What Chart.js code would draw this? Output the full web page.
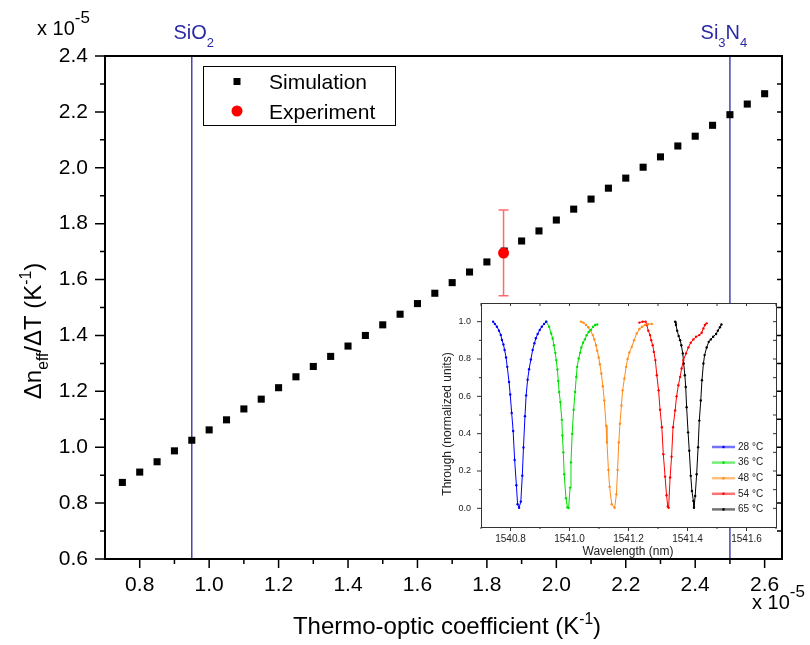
<!DOCTYPE html>
<html>
<head>
<meta charset="utf-8">
<script src="https://cdn.jsdelivr.net/npm/chart.js@4.4.1/dist/chart.umd.min.js"></script>
<style>
body { margin: 0; background: #fff; }
#wrap { position: relative; width: 810px; height: 645px; }
#main { position: absolute; left: 0; top: 0; }
#inset { position: absolute; left: 430px; top: 290px; }
</style>
</head>
<body>
<div id="wrap">
<canvas id="main" width="810" height="645"></canvas>
<canvas id="inset" width="360" height="275"></canvas>
</div>
<script>
// main plot: thermo-optic coefficient vs dn_eff/dT (both x 1e-5)
const simX = [0.75, 0.80, 0.85, 0.90, 0.95, 1.00, 1.05, 1.10, 1.15, 1.20, 1.25, 1.30, 1.35, 1.40, 1.45, 1.50, 1.55, 1.60, 1.65,
    1.70, 1.75, 1.80, 1.85, 1.90, 1.95, 2.00, 2.05, 2.10, 2.15, 2.20, 2.25, 2.30, 2.35, 2.40, 2.45, 2.50, 2.55, 2.60];
const simY = [0.874, 0.911, 0.948, 0.987, 1.025, 1.062, 1.098, 1.137, 1.172, 1.213, 1.252, 1.289, 1.325, 1.362, 1.400, 1.438,
    1.476, 1.514, 1.551, 1.589, 1.627, 1.663, 1.702, 1.738, 1.774, 1.813, 1.852, 1.888, 1.927, 1.963, 2.002, 2.039, 2.078,
    2.113, 2.152, 2.190, 2.228, 2.265];

const expX = [1.848];
const expY = [1.695];
const expLow = [1.542];
const expHigh = [1.849];

const materialX = [0.95, 2.50];
const materialLabels = [[['SiO', 1, 0], ['2', 0.65, 8]], [['Si', 1, 0], ['3', 0.65, 8], ['N', 1, 0], ['4', 0.65, 8]]];

const xTicks = [0.8, 1.0, 1.2, 1.4, 1.6, 1.8, 2.0, 2.2, 2.4, 2.6];
const yTicks = [0.6, 0.8, 1.0, 1.2, 1.4, 1.6, 1.8, 2.0, 2.2, 2.4];

// inset: resonance dips at several temperatures
const insetLabels = ['28 °C', '36 °C', '48 °C', '54 °C', '65 °C'];
const insetColors = ['#0000ff', '#00e000', '#ff8c1a', '#ff0000', '#000000'];

const wl28 = [1540.741, 1540.747, 1540.754, 1540.761, 1540.767, 1540.771, 1540.776, 1540.780, 1540.785, 1540.789,
    1540.795, 1540.799, 1540.804, 1540.809, 1540.814, 1540.820, 1540.824, 1540.829, 1540.835, 1540.840, 1540.844, 1540.849,
    1540.853, 1540.858, 1540.863, 1540.869, 1540.875, 1540.881, 1540.886, 1540.892, 1540.899, 1540.906, 1540.914, 1540.921];
const tr28 = [1.00, 0.988, 0.973, 0.952, 0.929, 0.902, 0.878, 0.848, 0.808, 0.758, 0.677, 0.610, 0.511, 0.414, 0.259, 0.124,
    0.022, 0.003, 0.036, 0.175, 0.326, 0.493, 0.605, 0.689, 0.745, 0.797, 0.848, 0.884, 0.911, 0.934, 0.955, 0.973, 0.988, 1.00];

const wl36 = [1540.921, 1540.931, 1540.938, 1540.943, 1540.947, 1540.952, 1540.955, 1540.959, 1540.962, 1540.965,
    1540.969, 1540.974, 1540.976, 1540.979, 1540.982, 1540.988, 1540.993, 1540.997, 1541.002, 1541.005, 1541.009, 1541.014,
    1541.019, 1541.023, 1541.026, 1541.031, 1541.036, 1541.040, 1541.046, 1541.052, 1541.058, 1541.065, 1541.072, 1541.080,
    1541.087, 1541.094];
const tr36 = [1.00, 0.973, 0.937, 0.910, 0.874, 0.833, 0.794, 0.744, 0.682, 0.623, 0.569, 0.474, 0.390, 0.300, 0.183, 0.054,
    0.005, 0.002, 0.111, 0.246, 0.399, 0.528, 0.623, 0.704, 0.758, 0.803, 0.833, 0.862, 0.887, 0.905, 0.927, 0.945, 0.955,
    0.973, 0.982, 0.985];

const wl48 = [1541.039, 1541.047, 1541.056, 1541.064, 1541.071, 1541.079, 1541.084, 1541.090, 1541.094, 1541.099,
    1541.103, 1541.108, 1541.113, 1541.118, 1541.124, 1541.127, 1541.132, 1541.136, 1541.143, 1541.153, 1541.159, 1541.163,
    1541.167, 1541.171, 1541.176, 1541.180, 1541.186, 1541.192, 1541.197, 1541.203, 1541.211, 1541.219, 1541.228, 1541.237,
    1541.246, 1541.256, 1541.266, 1541.279];
const tr48 = [1.00, 0.995, 0.982, 0.970, 0.952, 0.928, 0.905, 0.874, 0.844, 0.808, 0.772, 0.722, 0.654, 0.578, 0.443, 0.353,
    0.205, 0.115, 0.022, 0.003, 0.075, 0.205, 0.353, 0.453, 0.551, 0.632, 0.695, 0.758, 0.800, 0.835, 0.865, 0.901, 0.937,
    0.961, 0.973, 0.982, 0.986, 0.988];

const wl54 = [1541.237, 1541.248, 1541.258, 1541.262, 1541.267, 1541.273, 1541.277, 1541.282, 1541.286, 1541.291,
    1541.296, 1541.302, 1541.307, 1541.313, 1541.318, 1541.324, 1541.329, 1541.333, 1541.336, 1541.341, 1541.346, 1541.351,
    1541.358, 1541.363, 1541.369, 1541.375, 1541.380, 1541.386, 1541.395, 1541.403, 1541.411, 1541.420, 1541.429, 1541.440,
    1541.448, 1541.454, 1541.459, 1541.465];
const tr54 = [0.995, 1.00, 1.00, 0.982, 0.952, 0.928, 0.901, 0.874, 0.838, 0.794, 0.713, 0.632, 0.528, 0.434, 0.290, 0.170,
    0.070, 0.010, 0.003, 0.165, 0.276, 0.434, 0.524, 0.600, 0.659, 0.704, 0.749, 0.794, 0.830, 0.862, 0.887, 0.905, 0.919,
    0.928, 0.941, 0.964, 0.982, 0.991];

const wl65 = [1541.358, 1541.361, 1541.365, 1541.370, 1541.375, 1541.379, 1541.384, 1541.387, 1541.391, 1541.394,
    1541.397, 1541.402, 1541.406, 1541.411, 1541.415, 1541.420, 1541.422, 1541.426, 1541.431, 1541.436, 1541.440, 1541.445,
    1541.449, 1541.454, 1541.458, 1541.465, 1541.472, 1541.479, 1541.487, 1541.497, 1541.503, 1541.510, 1541.515];
const tr65 = [1.00, 0.982, 0.952, 0.923, 0.901, 0.874, 0.830, 0.776, 0.713, 0.650, 0.542, 0.407, 0.309, 0.174, 0.093, 0.039,
    0.003, 0.066, 0.183, 0.327, 0.470, 0.578, 0.686, 0.776, 0.821, 0.862, 0.892, 0.905, 0.919, 0.934, 0.952, 0.970, 0.985];

const insetX = [wl28, wl36, wl48, wl54, wl65];
const insetY = [tr28, tr36, tr48, tr54, tr65];
const insetXTicks = [1540.8, 1541.0, 1541.2, 1541.4, 1541.6];
const insetYTicks = [0.0, 0.2, 0.4, 0.6, 0.8, 1.0];

const FONT = '"Liberation Sans", Arial, sans-serif';
const BLUE = '#2a2aa6';

function points(xs, ys) {
    return xs.map((x, i) => ({ x: x, y: ys[i] }));
}

function mid(a) {
    return a.slice(1).map((v, i) => (v + a[i]) / 2);
}

// text with sub/superscripts: parts = [[text, sizeScale, dy], ...]
function drawRich(ctx, parts, x, y, size, align) {
    let w = 0;
    parts.forEach(p => {
        ctx.font = (size * p[1]) + 'px ' + FONT;
        w += ctx.measureText(p[0]).width;
    });
    let cx = align === 'center' ? x - w / 2 : (align === 'right' ? x - w : x);
    ctx.textAlign = 'left';
    ctx.textBaseline = 'alphabetic';
    parts.forEach(p => {
        ctx.font = (size * p[1]) + 'px ' + FONT;
        ctx.fillText(p[0], cx, y + p[2]);
        cx += ctx.measureText(p[0]).width;
    });
}

function drawTicks(ctx, scale, vals, pos, len) {
    ctx.beginPath();
    vals.forEach(v => {
        const p = scale.getPixelForValue(v);
        if (scale.isHorizontal()) {
            ctx.moveTo(p, pos);
            ctx.lineTo(p, pos + len);
        } else {
            ctx.moveTo(pos, p);
            ctx.lineTo(pos + len, p);
        }
    });
    ctx.stroke();
}

const mainDecor = {
    id: 'mainDecor',
    beforeDatasetsDraw(chart) {
        const ctx = chart.ctx, xs = chart.scales.x, ys = chart.scales.y;
        ctx.save();
        ctx.strokeStyle = 'rgba(255, 70, 70, 0.8)';
        ctx.lineWidth = 1.5;
        expX.forEach((x, i) => {
            const px = xs.getPixelForValue(x);
            const y0 = ys.getPixelForValue(expLow[i]);
            const y1 = ys.getPixelForValue(expHigh[i]);
            ctx.beginPath();
            ctx.moveTo(px, y0); ctx.lineTo(px, y1);
            ctx.moveTo(px - 5, y0); ctx.lineTo(px + 5, y0);
            ctx.moveTo(px - 5, y1); ctx.lineTo(px + 5, y1);
            ctx.stroke();
        });
        ctx.restore();
    },
    afterDraw(chart) {
        const ctx = chart.ctx, a = chart.chartArea, xs = chart.scales.x, ys = chart.scales.y;
        ctx.save();
        ctx.strokeStyle = '#000';
        ctx.lineWidth = 2;
        ctx.strokeRect(a.left, a.top, a.right - a.left, a.bottom - a.top);
        ctx.lineWidth = 1.5;
        drawTicks(ctx, ys, yTicks, a.left, -10);
        drawTicks(ctx, ys, mid(yTicks), a.left, -5);
        drawTicks(ctx, xs, xTicks, a.bottom, 9);
        drawTicks(ctx, xs, mid(xTicks), a.bottom, 5);
        drawTicks(ctx, ys, yTicks.concat(mid(yTicks)), a.right, -5);

        ctx.fillStyle = '#000';
        drawRich(ctx, [['x 10', 1, 0], ['-5', 0.85, -12]], 37, 35, 20, 'left');
        drawRich(ctx, [['x 10', 1, 0], ['-5', 0.85, -12]], 752, 609, 20, 'left');
        drawRich(ctx, [['Thermo-optic coefficient (K', 1, 0], ['-1', 0.65, -10], [')', 1, 0]], 447, 634, 24, 'center');
        ctx.save();
        ctx.translate(41, 331);
        ctx.rotate(-Math.PI / 2);
        drawRich(ctx, [['\u0394n', 1, 0], ['eff', 0.65, 7], ['/\u0394T (K', 1, 0], ['-1', 0.65, -10], [')', 1, 0]], 0, 0, 24, 'center');
        ctx.restore();

        ctx.fillStyle = BLUE;
        materialX.forEach((x, i) => {
            drawRich(ctx, materialLabels[i], xs.getPixelForValue(x) + (i === 0 ? 2 : -6), 39, 20, 'center');
        });

        // legend box
        ctx.lineWidth = 1;
        ctx.strokeStyle = '#000';
        ctx.strokeRect(203.5, 66.5, 192, 59);
        ctx.fillStyle = '#000';
        ctx.fillRect(233.5, 78, 7, 7);
        ctx.fillStyle = '#ff0000';
        ctx.beginPath();
        ctx.arc(237, 111, 5.5, 0, Math.PI * 2);
        ctx.fill();
        ctx.fillStyle = '#000';
        ctx.font = '21px ' + FONT;
        ctx.textAlign = 'left';
        ctx.textBaseline = 'alphabetic';
        ctx.fillText('Simulation', 269, 89);
        ctx.fillText('Experiment', 269, 119);
        ctx.restore();
    }
};

const lineSets = materialX.map(x => ({
    data: [{ x: x, y: yTicks[0] }, { x: x, y: yTicks[yTicks.length - 1] }],
    showLine: true,
    borderColor: BLUE,
    borderWidth: 1.3,
    pointRadius: 0
}));

new Chart(document.getElementById('main'), {
    type: 'scatter',
    data: {
        datasets: [
            { label: 'Experiment', data: points(expX, expY), pointStyle: 'circle', pointRadius: 5.5,
                backgroundColor: '#ff0000', borderWidth: 0 },
            { label: 'Simulation', data: points(simX, simY), pointStyle: 'rect', pointRadius: 5,
                backgroundColor: '#000', borderWidth: 0 }
        ].concat(lineSets)
    },
    options: {
        responsive: false,
        animation: false,
        events: [],
        layout: { padding: { left: 0, top: 56, right: 28, bottom: 0 } },
        plugins: { legend: { display: false }, tooltip: { enabled: false } },
        scales: {
            x: {
                type: 'linear', min: 0.7, max: 2.65,
                afterBuildTicks: s => { s.ticks = xTicks.map(v => ({ value: v })); },
                afterFit: s => { s.height = 86; },
                grid: { display: false, tickLength: 9 },
                border: { display: false },
                ticks: { color: '#000', font: { family: FONT, size: 21 }, padding: 5, maxRotation: 0, autoSkip: false,
                    callback: v => v.toFixed(1) }
            },
            y: {
                type: 'linear', min: 0.6, max: 2.4,
                afterBuildTicks: s => { s.ticks = yTicks.map(v => ({ value: v })); },
                afterFit: s => { s.width = 105; },
                grid: { display: false, tickLength: 10 },
                border: { display: false },
                ticks: { color: '#000', font: { family: FONT, size: 21 }, padding: 7, autoSkip: false,
                    callback: v => v.toFixed(1) }
            }
        }
    },
    plugins: [mainDecor]
});

const insetDecor = {
    id: 'insetDecor',
    beforeDraw(chart) {
        const ctx = chart.ctx, a = chart.chartArea;
        ctx.save();
        ctx.fillStyle = '#fff';
        ctx.fillRect(a.left, a.top, a.right - a.left, a.bottom - a.top);
        ctx.restore();
    },
    afterDraw(chart) {
        const ctx = chart.ctx, a = chart.chartArea, xs = chart.scales.x, ys = chart.scales.y;
        ctx.save();
        ctx.strokeStyle = '#333';
        ctx.lineWidth = 1;
        ctx.strokeRect(a.left + 0.5, a.top + 0.5, a.right - a.left, a.bottom - a.top);
        const xMinor = mid(insetXTicks).concat([1540.7, 1541.7]);
        const yMinor = mid(insetYTicks);
        drawTicks(ctx, ys, insetYTicks, a.left, -4);
        drawTicks(ctx, ys, yMinor, a.left, -2);
        drawTicks(ctx, ys, insetYTicks.concat(yMinor), a.right, -3);
        drawTicks(ctx, xs, insetXTicks, a.bottom, 4);
        drawTicks(ctx, xs, xMinor, a.bottom, 2);
        drawTicks(ctx, xs, insetXTicks.concat(xMinor), a.top, 3);

        ctx.fillStyle = '#222';
        drawRich(ctx, [['Wavelength (nm)', 1, 0]], 198, 265, 12, 'center');
        ctx.save();
        ctx.translate(21, 134);
        ctx.rotate(-Math.PI / 2);
        drawRich(ctx, [['Through (normalized units)', 1, 0]], 0, 0, 12, 'center');
        ctx.restore();

        // legend
        insetLabels.forEach((lab, i) => {
            const y = 157 + i * 15.6;
            ctx.globalAlpha = 0.55;
            ctx.strokeStyle = insetColors[i];
            ctx.lineWidth = 2.5;
            ctx.beginPath();
            ctx.moveTo(282, y); ctx.lineTo(305, y);
            ctx.stroke();
            ctx.globalAlpha = 1;
            ctx.fillStyle = insetColors[i];
            ctx.beginPath();
            ctx.arc(293.5, y, 1.3, 0, Math.PI * 2);
            ctx.fill();
            ctx.fillStyle = '#222';
            ctx.font = '10px ' + FONT;
            ctx.textAlign = 'left';
            ctx.textBaseline = 'middle';
            ctx.fillText(lab, 308, y);
        });
        ctx.restore();
    }
};

new Chart(document.getElementById('inset'), {
    type: 'scatter',
    data: {
        datasets: insetLabels.map((lab, i) => ({
            label: lab,
            data: points(insetX[i], insetY[i]),
            showLine: true,
            borderColor: insetColors[i],
            backgroundColor: insetColors[i],
            borderWidth: 1,
            pointRadius: 1.2,
            pointBorderWidth: 0
        }))
    },
    options: {
        responsive: false,
        animation: false,
        events: [],
        layout: { padding: { left: 0, top: 13, right: 14, bottom: 0 } },
        plugins: { legend: { display: false }, tooltip: { enabled: false } },
        scales: {
            x: {
                type: 'linear', min: 1540.7, max: 1541.7,
                afterBuildTicks: s => { s.ticks = insetXTicks.map(v => ({ value: v })); },
                afterFit: s => { s.height = 38; },
                grid: { display: false, tickLength: 4 },
                border: { display: false },
                ticks: { color: '#222', font: { family: FONT, size: 10 }, padding: 2, maxRotation: 0, autoSkip: false,
                    callback: v => v.toFixed(1) }
            },
            y: {
                type: 'linear', min: -0.1, max: 1.1,
                afterBuildTicks: s => { s.ticks = insetYTicks.map(v => ({ value: v })); },
                afterFit: s => { s.width = 51; },
                grid: { display: false, tickLength: 4 },
                border: { display: false },
                ticks: { color: '#222', font: { family: FONT, size: 9 }, padding: 6, autoSkip: false,
                    callback: v => v.toFixed(1) }
            }
        }
    },
    plugins: [insetDecor]
});
</script>
</body>
</html>
